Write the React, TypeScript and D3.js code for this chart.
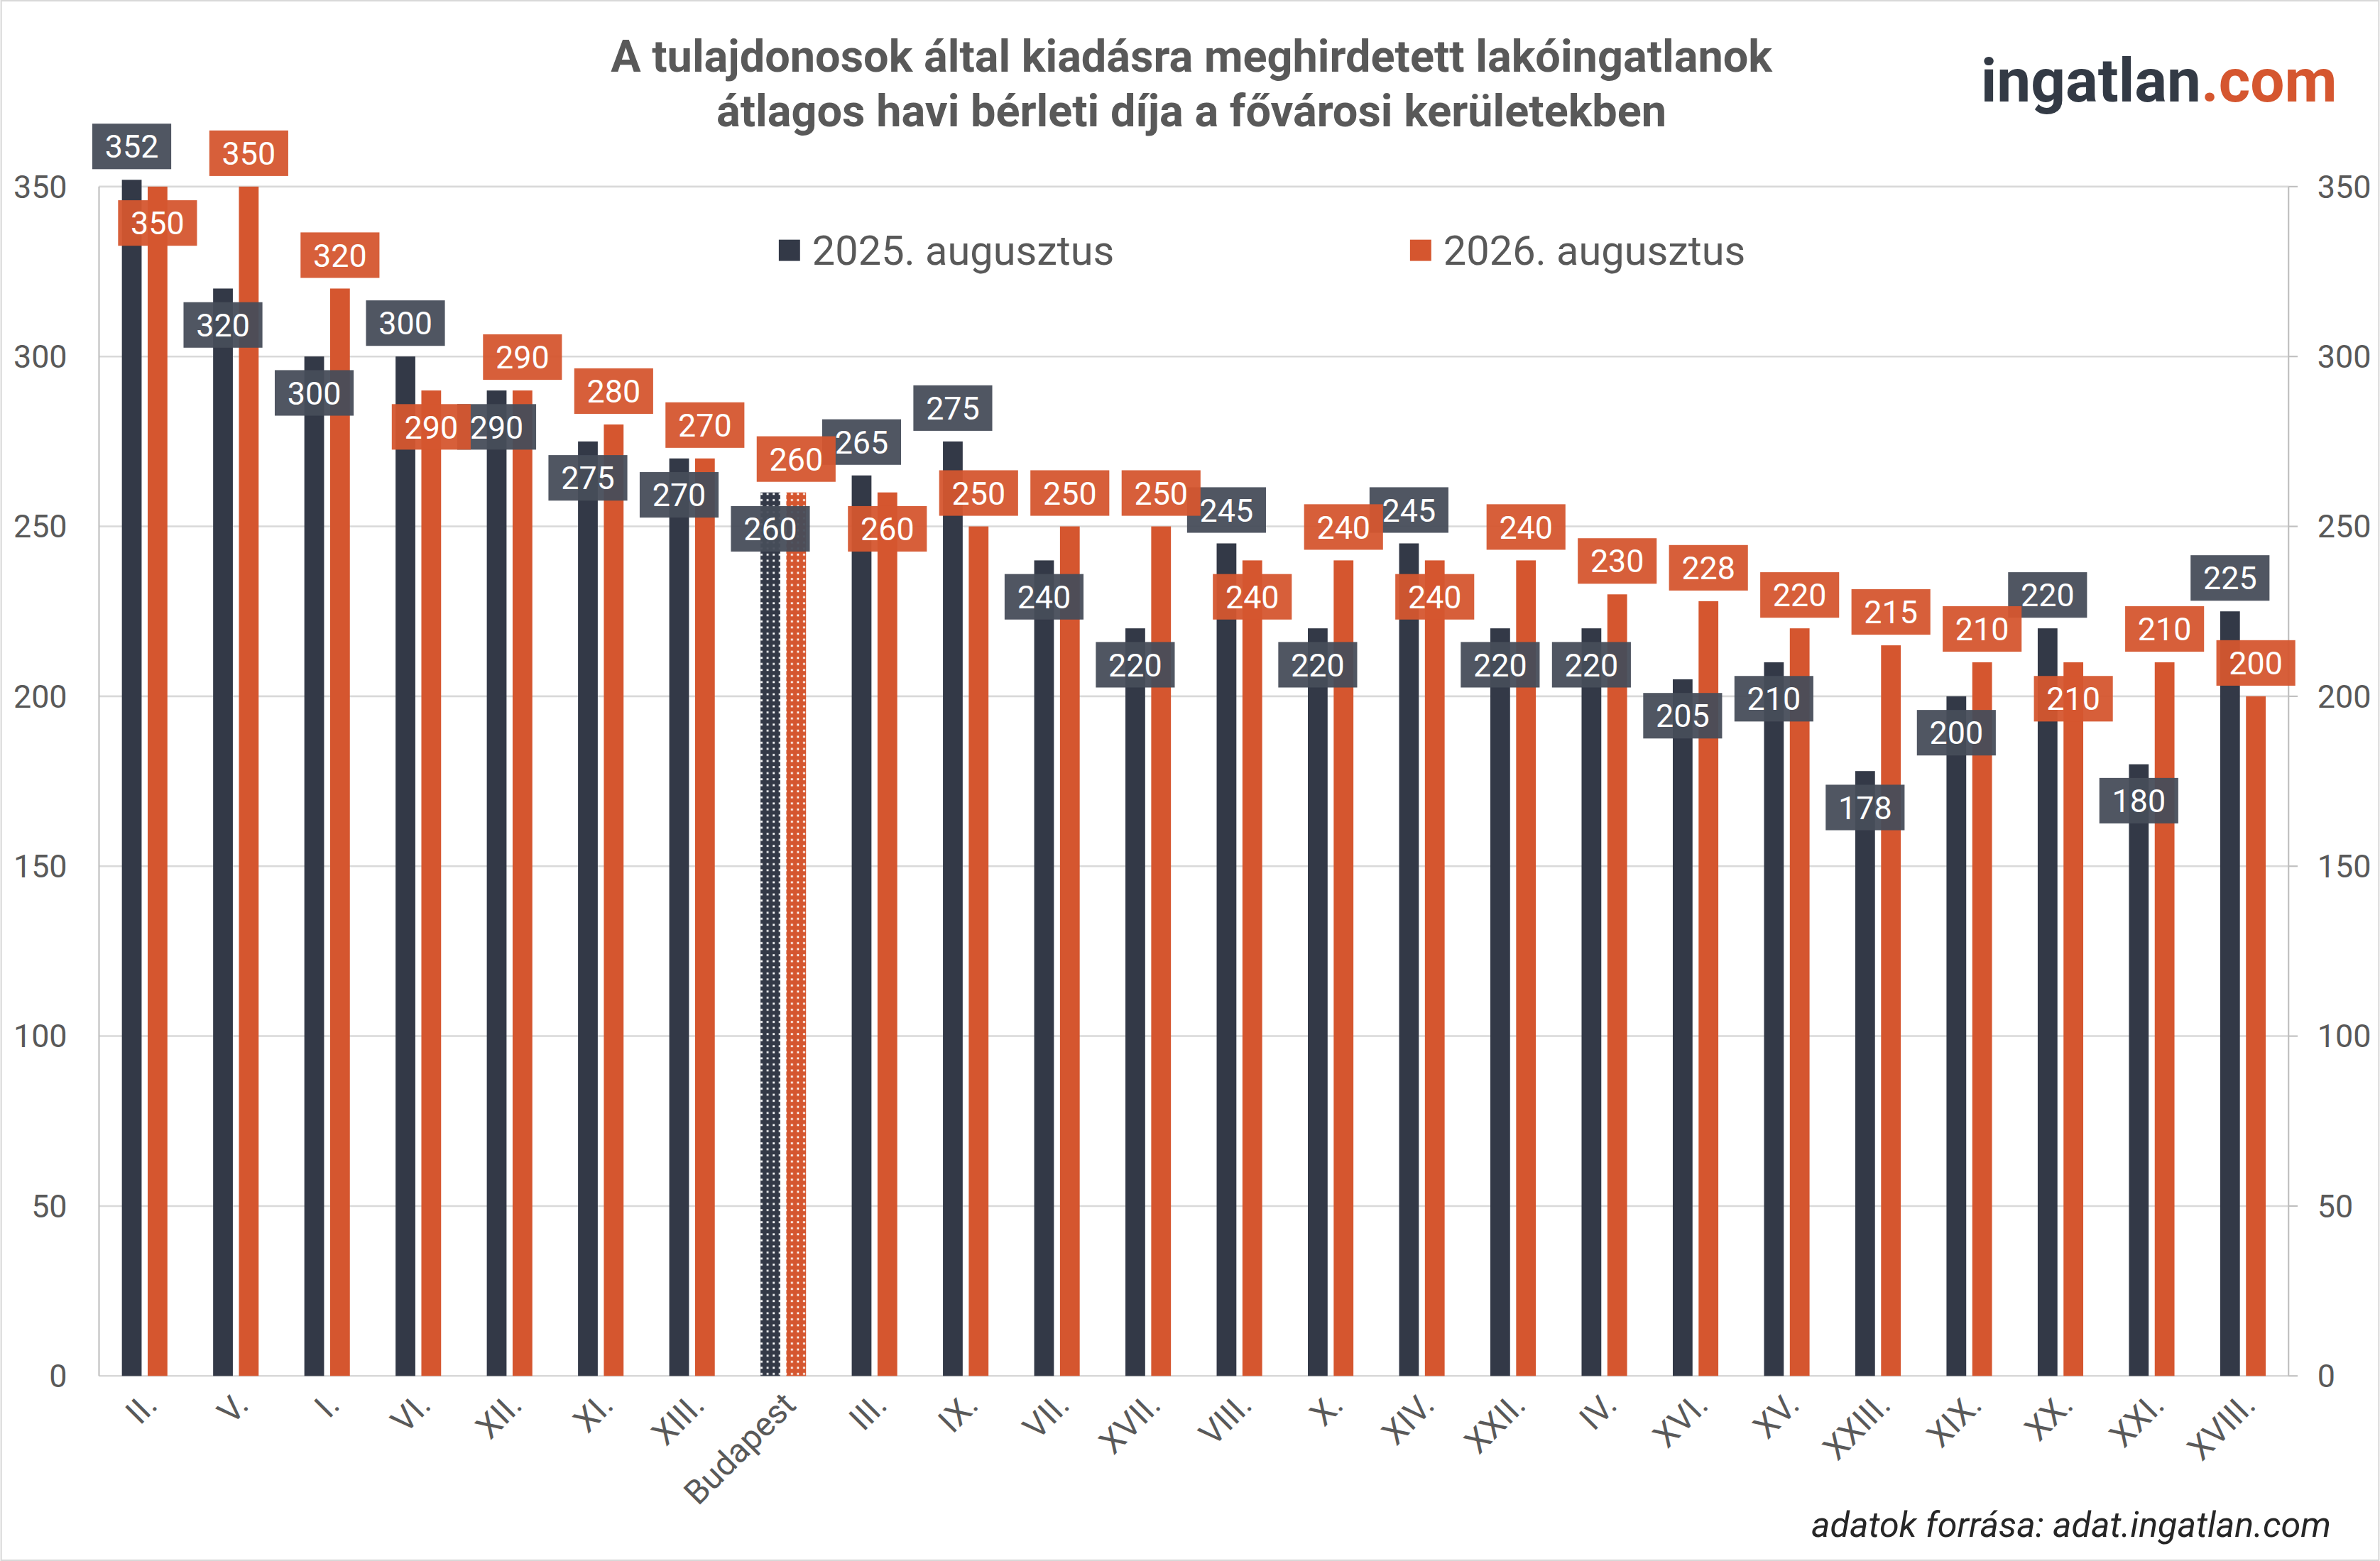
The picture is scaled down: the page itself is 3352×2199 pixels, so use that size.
import React from "react";
import * as d3 from "d3";

const districts = ["II.", "V.", "I.", "VI.", "XII.", "XI.", "XIII.", "Budapest", "III.", "IX.", "VII.", "XVII.", "VIII.", "X.", "XIV.", "XXII.", "IV.", "XVI.", "XV.", "XXIII.", "XIX.", "XX.", "XXI.", "XVIII."];
const rent2025 = [352, 320, 300, 300, 290, 275, 270, 260, 265, 275, 240, 220, 245, 220, 245, 220, 220, 205, 210, 178, 200, 220, 180, 225];
const rent2026 = [350, 350, 320, 290, 290, 280, 270, 260, 260, 250, 250, 250, 240, 240, 240, 240, 230, 228, 220, 215, 210, 210, 210, 200];
// label placement: a = above bar top, b = below bar top
const place2025 = "abbabbbbaabbababbbbbbaba".split("");
const place2026 = "baabaaaabaaababaaaaaabaa".split("");
const yTicks = [0, 50, 100, 150, 200, 250, 300, 350];

const DARK = "#333947";
const ORANGE = "#D5562F";
const W = 1568, H = 1029;
const m = { left: 65, right: 1508, top: 123, bottom: 907 };

export default function App() {
  const x = d3.scaleBand().domain(districts).range([m.left, m.right]).paddingInner(0).paddingOuter(0);
  const y = d3.scaleLinear().domain([0, 350]).range([m.bottom, m.top]);
  const bw = 13, gap = 4;
  const cx = (d: string) => x(d)! + x.bandwidth() / 2;
  const series = [
    { vals: rent2025, place: place2025, color: DARK, box: "#474d5a", off: -(bw + gap) / 2, pat: "dotDark" },
    { vals: rent2026, place: place2026, color: ORANGE, box: ORANGE, off: (bw + gap) / 2, pat: "dotOrange" },
  ];
  return (
    <svg width={3352} height={2199} viewBox={`0 0 ${W} ${H}`} style={{ position: "absolute", left: 0, top: 0, fontFamily: "Roboto, sans-serif" }}>
      <defs>
        <pattern id="dotDark" width={4} height={4} patternUnits="userSpaceOnUse">
          <rect width={4} height={4} fill={DARK} />
          <rect x={1} y={1} width={1.3} height={1.3} fill="#fff" />
        </pattern>
        <pattern id="dotOrange" width={4} height={4} patternUnits="userSpaceOnUse">
          <rect width={4} height={4} fill={ORANGE} />
          <rect x={1} y={1} width={1.3} height={1.3} fill="#fff" />
        </pattern>
      </defs>
      <rect x={0.5} y={0.5} width={W - 1} height={H - 1} fill="#fff" stroke="#d9d9d9" />
      {yTicks.map((t) => (
        <g key={t}>
          <line x1={m.left} x2={m.right} y1={y(t)} y2={y(t)} stroke="#d9d9d9" strokeWidth={1.2} />
          <text x={44} y={y(t)} dy="0.35em" textAnchor="end" fontSize={21} fill="#595959">{t}</text>
          <text x={1527} y={y(t)} dy="0.35em" textAnchor="start" fontSize={21} fill="#595959">{t}</text>
          <line x1={m.right} x2={m.right + 6} y1={y(t)} y2={y(t)} stroke="#bfbfbf" />
        </g>
      ))}
      <line x1={m.left} x2={m.left} y1={m.top} y2={m.bottom} stroke="#bfbfbf" />
      <line x1={m.right} x2={m.right} y1={m.top} y2={m.bottom} stroke="#bfbfbf" />
      {series.map((s, si) =>
        districts.map((d, i) => (
          <rect key={si + d} x={cx(d) + s.off - bw / 2} y={y(s.vals[i])} width={bw} height={m.bottom - y(s.vals[i])}
            fill={d === "Budapest" ? `url(#${s.pat})` : s.color} />
        ))
      )}
      {series.map((s, si) =>
        districts.map((d, i) => {
          const top = y(s.vals[i]);
          const ly = s.place[i] === "a" ? top - 22 : top + 24;
          return (
            <g key={"l" + si + d} transform={`translate(${cx(d) + s.off},${ly})`}>
              <rect x={-26} y={-15} width={52} height={30} fill={s.box} opacity={0.95} />
              <text textAnchor="middle" dy="0.36em" fontSize={21} fill="#fff">{s.vals[i]}</text>
            </g>
          );
        })
      )}
      {districts.map((d) => (
        <text key={"x" + d} transform={`translate(${cx(d) + 4},${922}) rotate(-45)`} textAnchor="end" dy="0.35em" fontSize={22} fill="#595959">{d}</text>
      ))}
      <rect x={513} y={158} width={14} height={14} fill={DARK} />
      <text x={535} y={165} dy="0.35em" fontSize={27} fill="#595959">2025. augusztus</text>
      <rect x={929} y={158} width={14} height={14} fill={ORANGE} />
      <text x={951} y={165} dy="0.35em" fontSize={27} fill="#595959">2026. augusztus</text>
      <text x={785} y={37} dy="0.35em" textAnchor="middle" fontSize={29.5} fontWeight="bold" fill="#595959">A tulajdonosok által kiadásra meghirdetett lakóingatlanok</text>
      <text x={785} y={73} dy="0.35em" textAnchor="middle" fontSize={29.5} fontWeight="bold" fill="#595959">átlagos havi bérleti díja a fővárosi kerületekben</text>
      <text x={1540} y={53} dy="0.35em" textAnchor="end" fontSize={40} fontWeight="bold" fill="#333a45">
        ingatlan<tspan fill={ORANGE}>.com</tspan>
      </text>
      <text x={1536} y={1005} dy="0.35em" textAnchor="end" fontSize={23.5} fontStyle="italic" fill="#262626">adatok forrása: adat.ingatlan.com</text>
    </svg>
  );
}
